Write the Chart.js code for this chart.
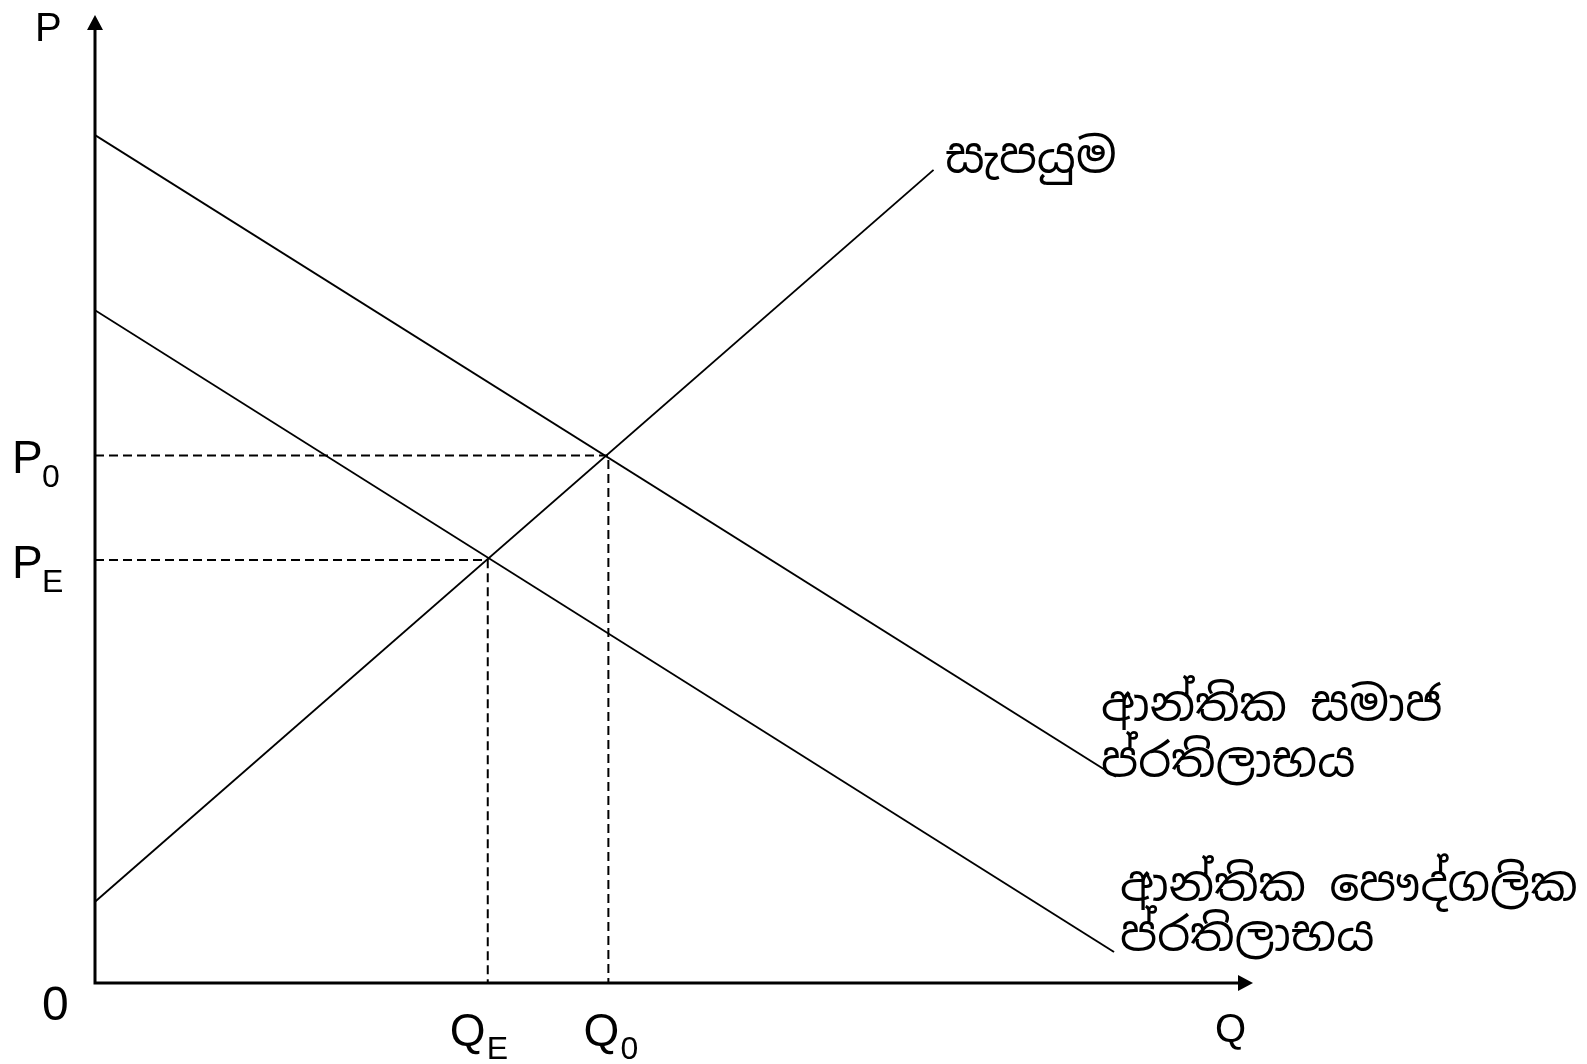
<!DOCTYPE html>
<html>
<head>
<meta charset="utf-8">
<script src="https://cdn.jsdelivr.net/npm/chart.js@4/dist/chart.umd.min.js"></script>
<style>
html, body { margin: 0; padding: 0; background: #fff; }
</style>
</head>
<body>
<canvas id="myChart" width="1587" height="1064"></canvas>
<script>
// axis ranges (Q across, P up)
const qMax = 12
const pMax = 10

// equilibrium points: [E, 0]
const eqQ = [4.07, 5.32]
const eqP = [4.37, 5.45]
const eqSub = ['E', '0']

// curves (two end points each)
const supplyQ = [0, 8.69]
const supplyP = [0.84, 8.40]
const msbQ = [0, 10.58]
const msbP = [8.76, 2.13]
const mpbQ = [0, 10.56]
const mpbP = [6.95, 0.32]

const supplyLabel = 'සැපයුම'
const msbLabel = ['ආන්තික සමාජ', 'ප්රතිලාභය']
const mpbLabel = ['ආන්තික පෞද්ගලික', 'ප්රතිලාභය']

const latinFont = '"Liberation Sans", Arial, sans-serif'
const sinFont = '"Noto Sans Sinhala", "Noto Sans", "DejaVu Sans", sans-serif'

const line = (qs, ps) => ({
    data: qs.map((q, i) => ({ x: q, y: ps[i] })),
    showLine: true,
    borderColor: '#000',
    borderWidth: 1.9,
    pointRadius: 0,
    fill: false
})

const guides = eqQ.map((q, i) => ({
    data: [{ x: 0, y: eqP[i] }, { x: q, y: eqP[i] }, { x: q, y: 0 }],
    showLine: true,
    borderColor: '#000',
    borderWidth: 2,
    borderDash: [9, 5],
    pointRadius: 0,
    fill: false
}))

const axesAndText = {
    id: 'axesAndText',
    afterDraw(chart) {
        const c = chart.ctx
        const x = chart.scales.x, y = chart.scales.y
        const x0 = x.getPixelForValue(0), y0 = y.getPixelForValue(0)
        const xEnd = x.getPixelForValue(qMax), yEnd = y.getPixelForValue(pMax)
        c.save()
        c.strokeStyle = '#000'
        c.fillStyle = '#000'
        c.lineWidth = 3
        c.beginPath()
        c.moveTo(x0, y0)
        c.lineTo(x0, yEnd + 14)
        c.moveTo(x0 - 1.5, y0)
        c.lineTo(xEnd - 14, y0)
        c.stroke()
        // arrow heads
        c.beginPath()
        c.moveTo(x0, yEnd)
        c.lineTo(x0 - 8, yEnd + 15)
        c.lineTo(x0 + 8, yEnd + 15)
        c.closePath()
        c.fill()
        c.beginPath()
        c.moveTo(xEnd, y0)
        c.lineTo(xEnd - 15, y0 - 8)
        c.lineTo(xEnd - 15, y0 + 8)
        c.closePath()
        c.fill()

        c.textBaseline = 'alphabetic'
        c.textAlign = 'left'
        c.font = '40px ' + latinFont
        c.fillText('P', 35, 41)
        c.fillText('Q', 1215, 1042)
        c.font = '48px ' + latinFont
        c.fillText('0', 42, 1020)

        // P labels and Q labels
        eqP.forEach((p, i) => {
            const py = y.getPixelForValue(p)
            c.font = '46px ' + latinFont
            c.fillText('P', 12, py + 18)
            c.font = '32px ' + latinFont
            c.fillText(eqSub[i], 42, py + 32)
        })
        const qOff = [-38, -25]
        eqQ.forEach((q, i) => {
            const px = x.getPixelForValue(q) + qOff[i]
            c.font = '46px ' + latinFont
            c.fillText('Q', px, y0 + 63)
            c.font = '32px ' + latinFont
            c.fillText(eqSub[i], px + 37, y0 + 76)
        })

        c.font = '48px ' + sinFont
        c.fillText(supplyLabel, 945, 172)
        c.font = '47px ' + sinFont
        c.fillText(msbLabel[0], 1101, 720)
        c.fillText(msbLabel[1], 1101, 776)
        c.fillText(mpbLabel[0], 1120, 900)
        c.fillText(mpbLabel[1], 1120, 950)
        c.restore()
    }
}

new Chart(document.getElementById('myChart').getContext('2d'), {
    type: 'scatter',
    data: {
        datasets: [
            line(supplyQ, supplyP),
            line(msbQ, msbP),
            line(mpbQ, mpbP),
            ...guides
        ]
    },
    options: {
        responsive: false,
        animation: false,
        devicePixelRatio: 1,
        layout: { padding: { left: 95, right: 334, top: 15, bottom: 81 } },
        plugins: { legend: { display: false }, tooltip: { enabled: false } },
        scales: {
            x: { type: 'linear', min: 0, max: qMax, display: false },
            y: { type: 'linear', min: 0, max: pMax, display: false }
        }
    },
    plugins: [axesAndText]
})
</script>
</body>
</html>
